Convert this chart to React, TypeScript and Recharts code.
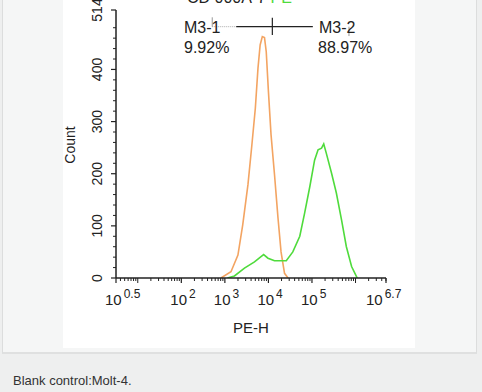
import { LineChart, Line, XAxis, YAxis, ReferenceLine } from "recharts";

// histogram (x is log10 of PE-H)
const controlLog = [2.91, 3.14, 3.3, 3.41, 3.53, 3.62, 3.7, 3.76, 3.81, 3.86, 3.91, 3.95, 4.0, 4.06, 4.14, 4.22, 4.29, 4.37, 4.45];
const controlCount = [0, 12, 44, 102, 179, 255, 326, 402, 447, 463, 461, 434, 358, 275, 198, 115, 50, 9, 0];

const sampleLog = [3.06, 3.22, 3.45, 3.68, 3.83, 3.89, 3.99, 4.14, 4.41, 4.56, 4.72, 4.83, 4.95, 5.06, 5.14, 5.22, 5.27, 5.33, 5.45, 5.56, 5.68, 5.79, 5.91, 6.02, 6.04];
const sampleCount = [0, 4, 19, 31, 41, 45, 38, 33, 33, 50, 80, 124, 175, 226, 246, 249, 257, 239, 201, 163, 111, 60, 22, 3, 0];

const xMajor = [0.5, 2, 3, 4, 5, 6.7];
const xMajorLabels = ["0.5", "2", "3", "4", "5", "6.7"];
const xDecades = [1, 6];
const yMajor = [0, 100, 200, 300, 400, 514];

// gate marker (M3-1 / M3-2)
const gateY = 482;
const gateLeft = 2.71;
const gateSolidStart = 3.26;
const gateSplit = 4.09;
const gateSolidEnd = 5.02;
const gateRight = 5.85;

const controlData = controlLog.map((x, i) => ({ x, y: controlCount[i] }));
const sampleData = sampleLog.map((x, i) => ({ x, y: sampleCount[i] }));

const xMinor: number[] = [];
for (let d = 0; d <= 6; d++) {
  for (let m = 2; m <= 9; m++) {
    const v = d + Math.log10(m);
    if (v > 0.5 && v < 6.7) xMinor.push(v);
  }
}
const xTicks = [...xMajor, ...xDecades, ...xMinor].sort((a, b) => a - b);

const yMinor: number[] = [];
for (let v = 20; v <= 500; v += 20) if (v % 100 !== 0) yMinor.push(v);
const yTicks = [...yMajor, ...yMinor].sort((a, b) => a - b);

const FONT = '"Liberation Sans", Arial, sans-serif';

function XTick(props: any) {
  const { x, y, payload } = props;
  const v = payload.value;
  const idx = xMajor.indexOf(v);
  if (idx >= 0) {
    const shift = v === 6.7 ? -20 : -11;
    return (
      <g>
        <line x1={x} x2={x} y1={y} y2={y + 5} stroke="#222" strokeWidth={1.2} />
        <text x={x + shift} y={y + 27} fontSize={15} fill="#222" fontFamily={FONT}>
          <tspan>10</tspan>
          <tspan dx={2} dy={-7} fontSize={12}>
            {xMajorLabels[idx]}
          </tspan>
        </text>
      </g>
    );
  }
  const len = xDecades.includes(v) ? 5 : 3;
  return <line x1={x} x2={x} y1={y} y2={y + len} stroke="#222" strokeWidth={1} />;
}

function YTick(props: any) {
  const { x, y, payload } = props;
  const v = payload.value;
  if (yMajor.includes(v)) {
    return (
      <g>
        <line x1={x - 5} x2={x} y1={y} y2={y} stroke="#222" strokeWidth={1.2} />
        <text
          x={x - 19}
          y={y}
          transform={`rotate(-90 ${x - 19} ${y})`}
          textAnchor="middle"
          dominantBaseline="central"
          fontSize={14}
          fill="#222"
          fontFamily={FONT}
        >
          {v}
        </text>
      </g>
    );
  }
  return <line x1={x - 3} x2={x} y1={y} y2={y} stroke="#222" strokeWidth={1} />;
}

export default function App() {
  return (
    <div
      style={{
        position: "absolute",
        left: 0,
        top: 0,
        width: 482,
        height: 392,
        background: "#eeefef",
        overflow: "hidden",
        fontFamily: FONT,
      }}
    >
      <div
        style={{
          position: "absolute",
          left: 2,
          top: 0,
          width: 473,
          height: 352,
          background: "#f5f6f6",
          borderLeft: "1px solid #dcdddd",
          borderRight: "1px solid #dcdddd",
          borderBottom: "2px solid #dfe0e0",
        }}
      />
      <div style={{ position: "absolute", left: 63, top: 0, width: 352, height: 348, background: "#fff" }}>
        <LineChart width={352} height={348} margin={{ top: 10, right: 29, bottom: 0, left: 0 }}>
          <XAxis
            dataKey="x"
            type="number"
            domain={[0.5, 6.7]}
            ticks={xTicks}
            interval={0}
            tick={<XTick />}
            tickSize={0}
            tickMargin={0}
            tickLine={false}
            height={70}
            allowDataOverflow
            stroke="#222"
            strokeWidth={1.5}
          />
          <XAxis xAxisId="top" orientation="top" type="number" domain={[0.5, 6.7]} height={0} tick={false} tickLine={false} stroke="#222" strokeWidth={1.5} />
          <YAxis
            type="number"
            domain={[0, 514]}
            ticks={yTicks}
            interval={0}
            tick={<YTick />}
            tickSize={0}
            tickMargin={0}
            tickLine={false}
            width={53}
            allowDataOverflow
            stroke="#222"
            strokeWidth={1.5}
          />
          <YAxis yAxisId="right" orientation="right" type="number" domain={[0, 514]} width={0} tick={false} tickLine={false} stroke="#222" strokeWidth={1.5} />
          <Line data={controlData} dataKey="y" type="linear" stroke="#f3a462" strokeWidth={1.6} dot={false} isAnimationActive={false} />
          <Line data={sampleData} dataKey="y" type="linear" stroke="#4fdb3c" strokeWidth={1.6} dot={false} isAnimationActive={false} />
          <ReferenceLine segment={[{ x: gateLeft, y: gateY }, { x: gateSolidStart, y: gateY }]} stroke="#aaa" strokeDasharray="1 1" />
          <ReferenceLine segment={[{ x: gateSolidStart, y: gateY }, { x: gateSolidEnd, y: gateY }]} stroke="#222" strokeWidth={1.2} />
          <ReferenceLine segment={[{ x: gateSplit, y: gateY - 16 }, { x: gateSplit, y: gateY + 17 }]} stroke="#222" strokeWidth={1.2} />
          <ReferenceLine segment={[{ x: gateLeft, y: gateY }, { x: gateLeft, y: gateY + 18 }]} stroke="#999" />
          <ReferenceLine segment={[{ x: gateRight, y: gateY - 18 }, { x: gateRight, y: gateY }]} stroke="#999" />
        </LineChart>
      </div>
      <svg
        width={482}
        height={392}
        style={{ position: "absolute", left: 0, top: 0, pointerEvents: "none" }}
        fontFamily={FONT}
      >
        <text x={187} y={3} fontSize={16} fill="#222">
          CD 000A-7 <tspan fill="#4fdb3c">PE</tspan>
        </text>
        <text x={184} y={33} fontSize={16} fill="#222">M3-1</text>
        <text x={184} y={53} fontSize={16} fill="#222">9.92%</text>
        <text x={319} y={33} fontSize={16} fill="#222">M3-2</text>
        <text x={318} y={53} fontSize={16} fill="#222">88.97%</text>
        <text
          x={70}
          y={145}
          transform="rotate(-90 70 145)"
          textAnchor="middle"
          dominantBaseline="central"
          fontSize={14}
          fill="#222"
        >
          Count
        </text>
        <text x={251} y={333} textAnchor="middle" fontSize={15} fill="#222">PE-H</text>
        <text x={13} y={385} fontSize={13} fill="#333">Blank control:Molt-4.</text>
      </svg>
    </div>
  );
}
